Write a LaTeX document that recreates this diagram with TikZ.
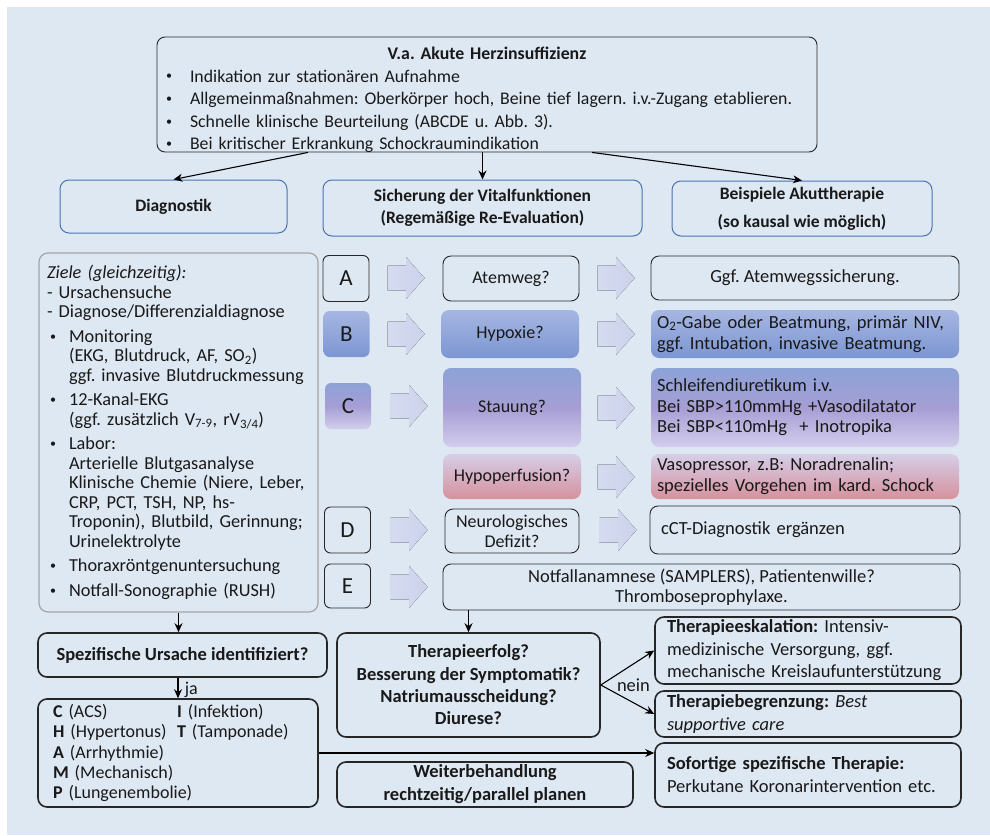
\documentclass[tikz,border=0pt]{standalone}
\usepackage{fontspec}
\setmainfont{Carlito}
\usetikzlibrary{arrows.meta,calc}
\frenchspacing

\definecolor{bgpanel}{RGB}{222,232,243}
\definecolor{hblue}{RGB}{74,114,180}
\definecolor{frame}{RGB}{38,38,38}
\definecolor{dgray}{RGB}{165,165,165}
\definecolor{arrL}{RGB}{213,219,239}
\definecolor{arrR}{RGB}{203,210,235}
\definecolor{bTop}{RGB}{166,182,226}
\definecolor{bBot}{RGB}{124,150,210}
\definecolor{cTop}{RGB}{140,162,215}
\definecolor{cMid}{RGB}{166,158,212}
\definecolor{cBot}{RGB}{210,206,236}
\definecolor{pTop}{RGB}{214,206,232}
\definecolor{pBot}{RGB}{214,145,156}

\newcommand{\listdot}{\raisebox{2pt}{\fontsize{12}{12}\selectfont\textbullet}}
\newcommand{\bul}{\hspace*{3pt}\makebox[24pt][l]{\listdot}}
\newcommand{\dbul}{\hspace*{3pt}\makebox[19pt][l]{\listdot}}
\newcommand{\dind}{\hspace*{22pt}}

\begin{document}
\begin{tikzpicture}[x=1pt, y=-1pt,
  every node/.style={font=\fontsize{18.5}{21}\selectfont, inner ysep=2pt, text=black!90},
  box/.style={draw=frame, line width=0.9pt, rounded corners=8pt},
  bigbox/.style={draw=frame, line width=1.6pt, rounded corners=9pt},
  headbox/.style={draw=hblue, line width=1pt, rounded corners=9pt, align=center, font=\bfseries\fontsize{17.5}{22}\selectfont},
  letter/.style={rounded corners=6pt, font=\fontsize{23}{23}\selectfont, minimum width=46, minimum height=46, inner sep=0pt},
  bshade/.style={top color=bTop, bottom color=bBot},
  cshade/.style={top color=cTop, bottom color=cBot, middle color=cMid},
  pshade/.style={top color=pTop, bottom color=pBot},
  barrow/.style={left color=arrL, right color=arrR},
  arr/.style={-{Stealth[length=9pt,width=8pt]}, line width=1.1pt, draw=black}]
  \useasboundingbox (0,0) rectangle (990,835);
  \fill[bgpanel] (7,7) rectangle (990,835);

  % top box and the three columns
  \node[box, minimum width=660, minimum height=115, text width=648, inner xsep=6, inner ysep=0pt, align=left, font=\fontsize{17.8}{22.5}\selectfont] (top) at (487,94.5)
    {\hspace*{\fill}\rule{0pt}{20pt}\textbf{V.a. Akute Herzinsuffizienz}\hspace*{\fill}\null\\
     \bul Indikation zur stationären Aufnahme\\
     \bul Allgemeinmaßnahmen: Oberkörper hoch, Beine tief lagern. i.v.-Zugang etablieren.\\
     \bul Schnelle klinische Beurteilung (ABCDE u. Abb. 3).\\
     \raisebox{0pt}[\height][0pt]{\bul Bei kritischer Erkrankung Schockraumindikation}};
  \node[headbox, minimum width=227, minimum height=53] (dia) at (173.5,206.5) {Diagnostik};
  \node[headbox, minimum width=319, minimum height=56] (sich) at (482.5,208) {Sicherung der Vitalfunktionen\\(Regemäßige Re-Evaluation)};
  \node[headbox, minimum width=260, minimum height=55] (beisp) at (802,208.5) {Beispiele Akuttherapie\\[6pt](so kausal wie möglich)};
  \draw[arr] ($(top.south west)!0.229!(top.south east)$) -- (dia.north);
  \draw[arr] (sich.north |- top.south) -- (sich.north);
  \draw[arr] ($(top.south west)!0.659!(top.south east)$) -- (beisp.north);

  % Diagnostik
  \node[draw=dgray, line width=1.2pt, rounded corners=9pt, minimum width=279, minimum height=359, text width=263, inner xsep=8, align=left, font=\fontsize{18.3}{19.5}\selectfont] (diag) at (178.5,432.5)
    {\textit{Ziele (gleichzeitig):}\\
     - Ursachensuche\\
     - Diagnose/Differenzialdiagnose\\[5pt]
     \dbul Monitoring\\
     \dind (EKG, Blutdruck, AF, SO\textsubscript{2})\\
     \dind ggf. invasive Blutdruckmessung\\[5pt]
     \dbul 12-Kanal-EKG\\
     \dind (ggf. zusätzlich V\textsubscript{7-9}, rV\textsubscript{3/4})\\[5pt]
     \dbul Labor:\\
     \dind Arterielle Blutgasanalyse\\
     \dind Klinische Chemie (Niere, Leber,\\
     \dind CRP, PCT, TSH, NP, hs-\\
     \dind Troponin), Blutbild, Gerinnung;\\
     \dind Urinelektrolyte\\[5pt]
     \dbul Thoraxröntgenuntersuchung\\[5pt]
     \dbul Notfall-Sonographie (RUSH)};

  % ABCDE
  \node[box, letter] (A) at (346,278.5) {A};
  \node[letter, bshade] (B) at (346.5,334) {B};
  \node[letter, cshade] (C) at (348,406) {C};
  \node[box, letter] (D) at (347.5,530) {D};
  \node[box, letter, minimum height=44] (E) at (347.5,586) {E};

  \node[box, minimum width=136, minimum height=45, font=\fontsize{18}{20}\selectfont] (atem) at (511,278.5) {Atemweg?};
  \node[bshade, rounded corners=8pt, minimum width=138, minimum height=48, font=\fontsize{18}{20}\selectfont] (hypox) at (510,334) {Hypoxie?};
  \node[cshade, rounded corners=8pt, minimum width=138, minimum height=79, font=\fontsize{18}{20}\selectfont] (stau) at (512,407.5) {Stauung?};
  \node[pshade, rounded corners=8pt, minimum width=138, minimum height=45, font=\fontsize{18}{20}\selectfont] (hperf) at (512,476.5) {Hypoperfusion?};
  \node[box, minimum width=134, minimum height=44, align=center, font=\fontsize{18}{20}\selectfont] (neuro) at (512,531) {Neurologisches\\Defizit?};

  \node[box, minimum width=308, minimum height=44] (sicher) at (805,278) {Ggf. Atemwegssicherung.};
  \node[bshade, rounded corners=8pt, minimum width=308, minimum height=48, text width=296, inner xsep=6, align=left] (o2) at (805,334)
    {O\textsubscript{2}-Gabe oder Beatmung, primär NIV,\\ggf. Intubation, invasive Beatmung.};
  \node[cshade, rounded corners=8pt, minimum width=308, minimum height=79, text width=296, inner xsep=6, align=left, font=\fontsize{18.5}{20.5}\selectfont] (schleife) at (805,407.5)
    {Schleifendiuretikum i.v.\\Bei SBP>110mmHg +Vasodilatator\\Bei SBP<110mHg\ \ + Inotropika};
  \node[pshade, rounded corners=8pt, minimum width=308, minimum height=45, text width=296, inner xsep=6, align=left] (vaso) at (805,476.5)
    {Vasopressor, z.B: Noradrenalin;\\spezielles Vorgehen im kard. Schock};
  \node[box, minimum width=310, minimum height=48, text width=288, inner xsep=11, align=left] (cct) at (805,530) {cCT-Diagnostik ergänzen};
  \node[box, minimum width=517, minimum height=46, align=center, font=\fontsize{18.5}{19.5}\selectfont] (notfall) at (701.5,587)
    {Notfallanamnese (SAMPLERS), Patientenwille?\\Thromboseprophylaxe.};

  % block arrows
  \foreach \cx/\cy in {406/278, 406/334, 409/406, 409/530, 409/587, 616/278, 616/334, 616/408, 616/477, 618/530}
    \fill[barrow] (\cx,\cy) ++(-18.5,-12.5) -- ++(18.5,0) -- ++(0,-8.5) -- ++(18.5,21) -- ++(-18.5,21) -- ++(0,-8.5) -- ++(-18.5,0) -- cycle;

  % bottom part
  \node[bigbox, minimum width=289, minimum height=44, font=\bfseries\fontsize{18.5}{22.5}\selectfont] (spez) at (182.5,655) {Spezifische Ursache identifiziert?};
  \node[bigbox, minimum width=280, minimum height=108, text width=250, inner xsep=15, align=left, font=\fontsize{18}{20.2}\selectfont] (causes) at (178,753)
    {\makebox[124pt][l]{\textbf{C} (ACS)}\textbf{I} (Infektion)\\
     \makebox[124pt][l]{\textbf{H} (Hypertonus)}\textbf{T} (Tamponade)\\
     \textbf{A} (Arrhythmie)\\
     \textbf{M} (Mechanisch)\\
     \textbf{P} (Lungenembolie)};
  \node[bigbox, minimum width=263, minimum height=104, align=center, font=\bfseries\fontsize{18.5}{22.3}\selectfont] (erfolg) at (468.5,685)
    {Therapieerfolg?\\Besserung der Symptomatik?\\Natriumausscheidung?\\Diurese?};
  \node[bigbox, minimum width=296, minimum height=45, align=center, font=\bfseries\fontsize{18.5}{23}\selectfont] (weiter) at (485,784.5)
    {Weiterbehandlung\\rechtzeitig/parallel planen};
  \node[bigbox, minimum width=306, minimum height=67, text width=282, inner xsep=12, align=left, font=\fontsize{18.5}{22.5}\selectfont] (eskal) at (808,650.5)
    {\textbf{Therapieeskalation:} Intensiv-\\medizinische Versorgung, ggf.\\mechanische Kreislaufunterstützung};
  \node[bigbox, minimum width=306, minimum height=46, text width=282, inner xsep=12, align=left, font=\fontsize{18.5}{23}\selectfont] (begr) at (808,714)
    {\textbf{Therapiebegrenzung:} \textit{Best}\\\textit{supportive care}};
  \node[bigbox, minimum width=306, minimum height=64, text width=282, inner xsep=12, align=left, font=\fontsize{18.5}{23}\selectfont] (sofort) at (808,775)
    {\textbf{Sofortige spezifische Therapie:}\\Perkutane Koronarintervention etc.};

  \draw[arr] (diag.south) -- (diag.south |- spez.north);
  \draw[arr] (causes.north |- spez.south) -- node[right, xshift=3pt, yshift=-2pt, font=\fontsize{18}{20}\selectfont] (ja) {ja} (causes.north);
  \draw[arr] (erfolg.north |- notfall.south) -- (erfolg.north);
  \draw[arr] (erfolg.east) -- (eskal.west);
  \draw[arr] (erfolg.east) -- (begr.west);
  \node[anchor=west, inner sep=0pt] (nein) at ([xshift=16pt]erfolg.east) {nein};
  \draw[arr] (causes.east) -- (causes.east -| sofort.west);
\end{tikzpicture}
\end{document}
